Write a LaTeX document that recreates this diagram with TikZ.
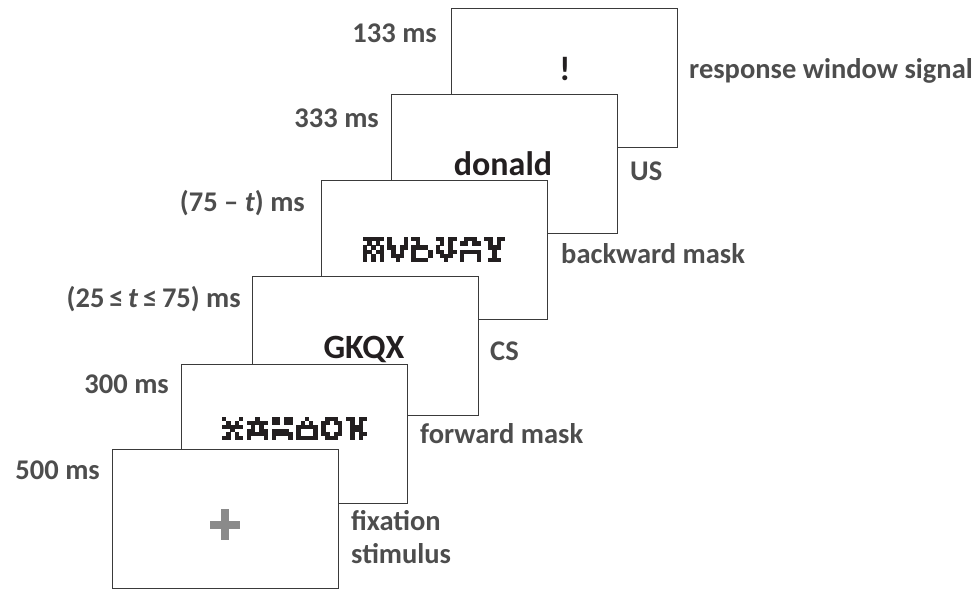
\documentclass[tikz,border=0pt]{standalone}
\usepackage{fontspec}
\setmainfont{Carlito}
\definecolor{lblc}{HTML}{4D4D4D}
\definecolor{ink}{HTML}{231F20}
\definecolor{frame}{HTML}{3A3A3A}
\definecolor{crossc}{HTML}{8A8A8A}
\def\mkrow#1#2{\def\mkri{#2}\def\mkcol{0}\mkparse#1\relax}
\def\mkparse#1{%
  \ifx#1\relax\else
    \if#1X\fill (\mkcol,\mkri) rectangle ++(1.04,1.04);\fi
    \pgfmathtruncatemacro\mkcol{\mkcol+1}%
    \expandafter\mkparse
  \fi}
\newcommand\mkglyph[4]{%
  \begin{scope}[xshift=#1pt,yshift=-#2pt,x=4.2pt,y=-#3pt,fill=ink]
    \foreach \rs [count=\ri from 0] in {#4}{\expandafter\mkrow\expandafter{\rs}{\ri}}
  \end{scope}}
\tikzset{
  screen/.style={draw=frame,line width=1pt,fill=white,minimum width=226pt,minimum height=139pt,inner sep=0pt,anchor=north west},
  lbl/.style={text=lblc,font=\fontsize{28.5}{33}\selectfont\bfseries,inner sep=0pt},
  cont/.style={text=ink,font=\fontsize{34}{40}\selectfont\bfseries,inner sep=0pt,anchor=base},
}
\begin{document}
\begin{tikzpicture}[x=1pt,y=-1pt]
\useasboundingbox (0,0) rectangle (974,590);
% screen 1
\node[screen] (s1) at (451,8) {};
\node[cont] (c1) at (565,80) {!};
% screen 2
\node[screen] (s2) at (391,94) {};
\node[cont] (c2) at (503,175) {donald};
% screen 3 (backward mask)
\node[screen] (s3) at (321,180) {};
\mkglyph{363}{237}{4.17}{XXXXX,oXoXo,XoXoX,XXoXX,XoXoX,XoXoX}
\mkglyph{387.2}{237}{4.17}{XoooX,XoooX,XXoXX,oXoXo,oXXXo,ooXoo}
\mkglyph{411.4}{237}{4.17}{XXooo,oXooo,XXXXo,XoooX,XoooX,XXXXo}
\mkglyph{435.6}{237}{4.17}{XXoXX,oXoXo,XooXo,XXoXX,oXXXo,ooXoo}
\mkglyph{459.8}{237}{4.17}{oXXXo,XXoXX,ooooo,XXXXX,XoooX,XoooX}
\mkglyph{484}{237}{4.17}{XXoXX,oXoXo,oXXXo,ooXoo,ooXoo,oXXXo}
% screen 4
\node[screen] (s4) at (252,276) {};
\node[cont] (c4) at (364,358) {GKQX};
% screen 5 (forward mask)
\node[screen] (s5) at (181,364) {};
\mkglyph{222}{417}{3.83}{XoooX,oXoXo,XXXXX,ooXoo,oXoXo,XXoXX}
\mkglyph{246.8}{417}{3.83}{ooXoo,XXXXX,oXoXo,XXoXX,XXXXX,XoooX}
\mkglyph{271.6}{417}{3.83}{XXoXX,XXoXX,ooooo,XXXXo,XXXXX,XoooX}
\mkglyph{296.4}{417}{3.83}{ooXoo,oXoXo,XXXXX,XoooX,XoooX,XXXXX}
\mkglyph{321.2}{417}{3.83}{oXXXo,XXoXX,XoooX,XoooX,XXoXX,oXXXo}
\mkglyph{346}{417}{3.83}{XXoXX,oXoXo,oXXXo,oXXXo,oXoXX,oXoXo}
% screen 6 (fixation)
\node[screen] (s6) at (112,449) {};
\coordinate (fxc) at (225,524.5);
\draw[crossc,line width=8pt] ([xshift=-15pt]fxc) -- ([xshift=15pt]fxc);
\draw[crossc,line width=8pt] ([yshift=15.5pt]fxc) -- ([yshift=-15.5pt]fxc);
% durations
\node[lbl,anchor=base east] (d1) at (437,42) {133 ms};
\node[lbl,anchor=base east] (d2) at (379,127) {333 ms};
\node[lbl,anchor=base east] (d3) at (305,211) {(75 – \textit{t}) ms};
\node[lbl,anchor=base east] (d4) at (241,307) {(25\,≤\,\textit{t}\,≤\,75) ms};
\node[lbl,anchor=base east] (d5) at (169,393) {300 ms};
\node[lbl,anchor=base east] (d6) at (100,479) {500 ms};
% descriptions
\node[lbl,anchor=base west] (n1) at (689,78) {response window signal};
\node[lbl,anchor=base west] (n2) at (630,180) {US};
\node[lbl,anchor=base west] (n3) at (561,263) {backward mask};
\node[lbl,anchor=base west] (n4) at (490,360) {CS};
\node[lbl,anchor=base west] (n5) at (420,443) {forward mask};
\node[lbl,anchor=base west] (n6) at (351,530) {fixation};
\node[lbl,anchor=base west] (n7) at (351,563) {stimulus};
\end{tikzpicture}
\end{document}
